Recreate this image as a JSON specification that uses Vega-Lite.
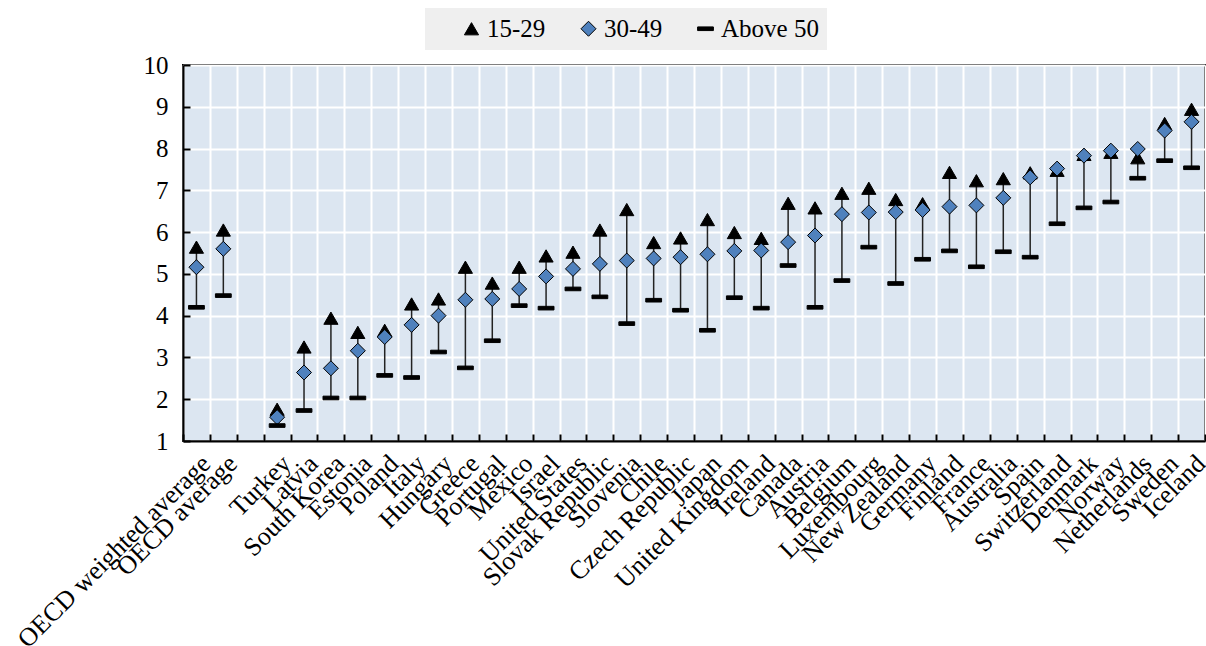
{
  "$schema": "https://vega.github.io/schema/vega-lite/v6.json",
  "width": 1022,
  "height": 376,
  "autosize": {"type": "none"},
  "padding": {"left": 183, "top": 65, "right": 1, "bottom": 205},
  "background": "white",
  "config": {
    "font": "Liberation Serif",
    "view": {"fill": "#dce6f1", "stroke": "black", "strokeWidth": 2},
    "axis": {
      "labelFont": "Liberation Serif",
      "labelFontSize": 24,
      "labelColor": "black",
      "labelLimit": 0,
      "gridColor": "white",
      "gridWidth": 2,
      "gridOpacity": 1,
      "domainColor": "black",
      "domainWidth": 2,
      "tickColor": "black",
      "tickWidth": 2,
      "title": null
    },
    "legend": {
      "labelFont": "Liberation Serif",
      "labelFontSize": 25,
      "labelColor": "black"
    }
  },
  "data": {
    "values": [
      {"country": "OECD weighted average", "age": "15-29", "value": 5.64},
      {"country": "OECD weighted average", "age": "30-49", "value": 5.16},
      {"country": "OECD weighted average", "age": "Above 50", "value": 4.20},
      {"country": "OECD average", "age": "15-29", "value": 6.05},
      {"country": "OECD average", "age": "30-49", "value": 5.60},
      {"country": "OECD average", "age": "Above 50", "value": 4.48},
      {"country": "Turkey", "age": "15-29", "value": 1.76},
      {"country": "Turkey", "age": "30-49", "value": 1.57},
      {"country": "Turkey", "age": "Above 50", "value": 1.37},
      {"country": "Latvia", "age": "15-29", "value": 3.25},
      {"country": "Latvia", "age": "30-49", "value": 2.64},
      {"country": "Latvia", "age": "Above 50", "value": 1.73},
      {"country": "South Korea", "age": "15-29", "value": 3.94},
      {"country": "South Korea", "age": "30-49", "value": 2.74},
      {"country": "South Korea", "age": "Above 50", "value": 2.03},
      {"country": "Estonia", "age": "15-29", "value": 3.60},
      {"country": "Estonia", "age": "30-49", "value": 3.16},
      {"country": "Estonia", "age": "Above 50", "value": 2.03},
      {"country": "Poland", "age": "15-29", "value": 3.65},
      {"country": "Poland", "age": "30-49", "value": 3.49},
      {"country": "Poland", "age": "Above 50", "value": 2.57},
      {"country": "Italy", "age": "15-29", "value": 4.28},
      {"country": "Italy", "age": "30-49", "value": 3.78},
      {"country": "Italy", "age": "Above 50", "value": 2.52},
      {"country": "Hungary", "age": "15-29", "value": 4.40},
      {"country": "Hungary", "age": "30-49", "value": 4.00},
      {"country": "Hungary", "age": "Above 50", "value": 3.13},
      {"country": "Greece", "age": "15-29", "value": 5.16},
      {"country": "Greece", "age": "30-49", "value": 4.38},
      {"country": "Greece", "age": "Above 50", "value": 2.75},
      {"country": "Portugal", "age": "15-29", "value": 4.78},
      {"country": "Portugal", "age": "30-49", "value": 4.40},
      {"country": "Portugal", "age": "Above 50", "value": 3.40},
      {"country": "Mexico", "age": "15-29", "value": 5.16},
      {"country": "Mexico", "age": "30-49", "value": 4.64},
      {"country": "Mexico", "age": "Above 50", "value": 4.24},
      {"country": "Israel", "age": "15-29", "value": 5.43},
      {"country": "Israel", "age": "30-49", "value": 4.94},
      {"country": "Israel", "age": "Above 50", "value": 4.18},
      {"country": "United States", "age": "15-29", "value": 5.52},
      {"country": "United States", "age": "30-49", "value": 5.12},
      {"country": "United States", "age": "Above 50", "value": 4.64},
      {"country": "Slovak Republic", "age": "15-29", "value": 6.05},
      {"country": "Slovak Republic", "age": "30-49", "value": 5.24},
      {"country": "Slovak Republic", "age": "Above 50", "value": 4.45},
      {"country": "Slovenia", "age": "15-29", "value": 6.54},
      {"country": "Slovenia", "age": "30-49", "value": 5.32},
      {"country": "Slovenia", "age": "Above 50", "value": 3.81},
      {"country": "Chile", "age": "15-29", "value": 5.75},
      {"country": "Chile", "age": "30-49", "value": 5.37},
      {"country": "Chile", "age": "Above 50", "value": 4.37},
      {"country": "Czech Republic", "age": "15-29", "value": 5.86},
      {"country": "Czech Republic", "age": "30-49", "value": 5.40},
      {"country": "Czech Republic", "age": "Above 50", "value": 4.13},
      {"country": "Japan", "age": "15-29", "value": 6.30},
      {"country": "Japan", "age": "30-49", "value": 5.47},
      {"country": "Japan", "age": "Above 50", "value": 3.65},
      {"country": "United Kingdom", "age": "15-29", "value": 5.99},
      {"country": "United Kingdom", "age": "30-49", "value": 5.55},
      {"country": "United Kingdom", "age": "Above 50", "value": 4.43},
      {"country": "Ireland", "age": "15-29", "value": 5.85},
      {"country": "Ireland", "age": "30-49", "value": 5.56},
      {"country": "Ireland", "age": "Above 50", "value": 4.18},
      {"country": "Canada", "age": "15-29", "value": 6.69},
      {"country": "Canada", "age": "30-49", "value": 5.76},
      {"country": "Canada", "age": "Above 50", "value": 5.20},
      {"country": "Austria", "age": "15-29", "value": 6.58},
      {"country": "Austria", "age": "30-49", "value": 5.92},
      {"country": "Austria", "age": "Above 50", "value": 4.20},
      {"country": "Belgium", "age": "15-29", "value": 6.93},
      {"country": "Belgium", "age": "30-49", "value": 6.43},
      {"country": "Belgium", "age": "Above 50", "value": 4.84},
      {"country": "Luxembourg", "age": "15-29", "value": 7.05},
      {"country": "Luxembourg", "age": "30-49", "value": 6.47},
      {"country": "Luxembourg", "age": "Above 50", "value": 5.64},
      {"country": "New Zealand", "age": "15-29", "value": 6.78},
      {"country": "New Zealand", "age": "30-49", "value": 6.48},
      {"country": "New Zealand", "age": "Above 50", "value": 4.77},
      {"country": "Germany", "age": "15-29", "value": 6.68},
      {"country": "Germany", "age": "30-49", "value": 6.53},
      {"country": "Germany", "age": "Above 50", "value": 5.35},
      {"country": "Finland", "age": "15-29", "value": 7.43},
      {"country": "Finland", "age": "30-49", "value": 6.61},
      {"country": "Finland", "age": "Above 50", "value": 5.55},
      {"country": "France", "age": "15-29", "value": 7.23},
      {"country": "France", "age": "30-49", "value": 6.64},
      {"country": "France", "age": "Above 50", "value": 5.17},
      {"country": "Australia", "age": "15-29", "value": 7.28},
      {"country": "Australia", "age": "30-49", "value": 6.82},
      {"country": "Australia", "age": "Above 50", "value": 5.53},
      {"country": "Spain", "age": "15-29", "value": 7.42},
      {"country": "Spain", "age": "30-49", "value": 7.31},
      {"country": "Spain", "age": "Above 50", "value": 5.40},
      {"country": "Switzerland", "age": "15-29", "value": 7.48},
      {"country": "Switzerland", "age": "30-49", "value": 7.52},
      {"country": "Switzerland", "age": "Above 50", "value": 6.20},
      {"country": "Denmark", "age": "15-29", "value": 7.86},
      {"country": "Denmark", "age": "30-49", "value": 7.83},
      {"country": "Denmark", "age": "Above 50", "value": 6.58},
      {"country": "Norway", "age": "15-29", "value": 7.91},
      {"country": "Norway", "age": "30-49", "value": 7.95},
      {"country": "Norway", "age": "Above 50", "value": 6.72},
      {"country": "Netherlands", "age": "15-29", "value": 7.78},
      {"country": "Netherlands", "age": "30-49", "value": 7.99},
      {"country": "Netherlands", "age": "Above 50", "value": 7.29},
      {"country": "Sweden", "age": "15-29", "value": 8.60},
      {"country": "Sweden", "age": "30-49", "value": 8.43},
      {"country": "Sweden", "age": "Above 50", "value": 7.71},
      {"country": "Iceland", "age": "15-29", "value": 8.94},
      {"country": "Iceland", "age": "30-49", "value": 8.64},
      {"country": "Iceland", "age": "Above 50", "value": 7.54}
    ]
  },
  "encoding": {
    "x": {
      "field": "country",
      "type": "nominal",
      "sort": null,
      "scale": {
        "domain": ["OECD weighted average", "OECD average", " ", "Turkey", "Latvia", "South Korea", "Estonia", "Poland", "Italy", "Hungary", "Greece", "Portugal", "Mexico", "Israel", "United States", "Slovak Republic", "Slovenia", "Chile", "Czech Republic", "Japan", "United Kingdom", "Ireland", "Canada", "Austria", "Belgium", "Luxembourg", "New Zealand", "Germany", "Finland", "France", "Australia", "Spain", "Switzerland", "Denmark", "Norway", "Netherlands", "Sweden", "Iceland"],
        "paddingInner": 0,
        "paddingOuter": 0
      },
      "axis": {
        "labelAngle": -45,
        "labelFontSize": 26,
        "tickBand": "extent",
        "tickSize": -7,
        "labelPadding": 16,
        "grid": true
      }
    }
  },
  "layer": [
    {
      "mark": {"type": "rule", "color": "#222222", "strokeWidth": 1.5},
      "encoding": {
        "y": {
          "aggregate": "min",
          "field": "value",
          "type": "quantitative",
          "scale": {"domain": [1, 10], "nice": false, "zero": false},
          "axis": {
            "values": [1, 2, 3, 4, 5, 6, 7, 8, 9, 10],
            "tickSize": -7,
            "labelPadding": 22,
            "labelFontSize": 25,
            "grid": true
          }
        },
        "y2": {"aggregate": "max", "field": "value"}
      }
    },
    {
      "mark": {"type": "point", "filled": true, "stroke": "black", "strokeWidth": 1, "opacity": 1},
      "encoding": {
        "y": {"field": "value", "type": "quantitative"},
        "shape": {
          "field": "age",
          "type": "nominal",
          "scale": {
            "domain": ["15-29", "30-49", "Above 50"],
            "range": ["triangle-up", "diamond", "M-1,-0.23H1V0.23H-1Z"]
          },
          "legend": {
            "title": null,
            "orient": "none",
            "direction": "horizontal",
            "legendX": 242,
            "legendY": -57,
            "fillColor": "#efefef",
            "padding": 8,
            "columnPadding": 4,
            "symbolOffset": 26,
            "symbolSize": 190,
            "symbolStrokeColor": "black",
            "symbolStrokeWidth": 1,
            "labelOffset": 3
          }
        },
        "color": {
          "field": "age",
          "type": "nominal",
          "scale": {
            "domain": ["15-29", "30-49", "Above 50"],
            "range": ["black", "#4f81bd", "black"]
          },
          "legend": {
            "title": null,
            "orient": "none",
            "direction": "horizontal",
            "legendX": 242,
            "legendY": -57,
            "fillColor": "#efefef",
            "padding": 8,
            "columnPadding": 4,
            "symbolOffset": 26,
            "symbolSize": 190,
            "symbolStrokeColor": "black",
            "symbolStrokeWidth": 1,
            "labelOffset": 3
          }
        },
        "size": {
          "field": "age",
          "type": "nominal",
          "scale": {
            "domain": ["15-29", "30-49", "Above 50"],
            "range": [200, 250, 400]
          },
          "legend": null
        }
      }
    }
  ]
}
